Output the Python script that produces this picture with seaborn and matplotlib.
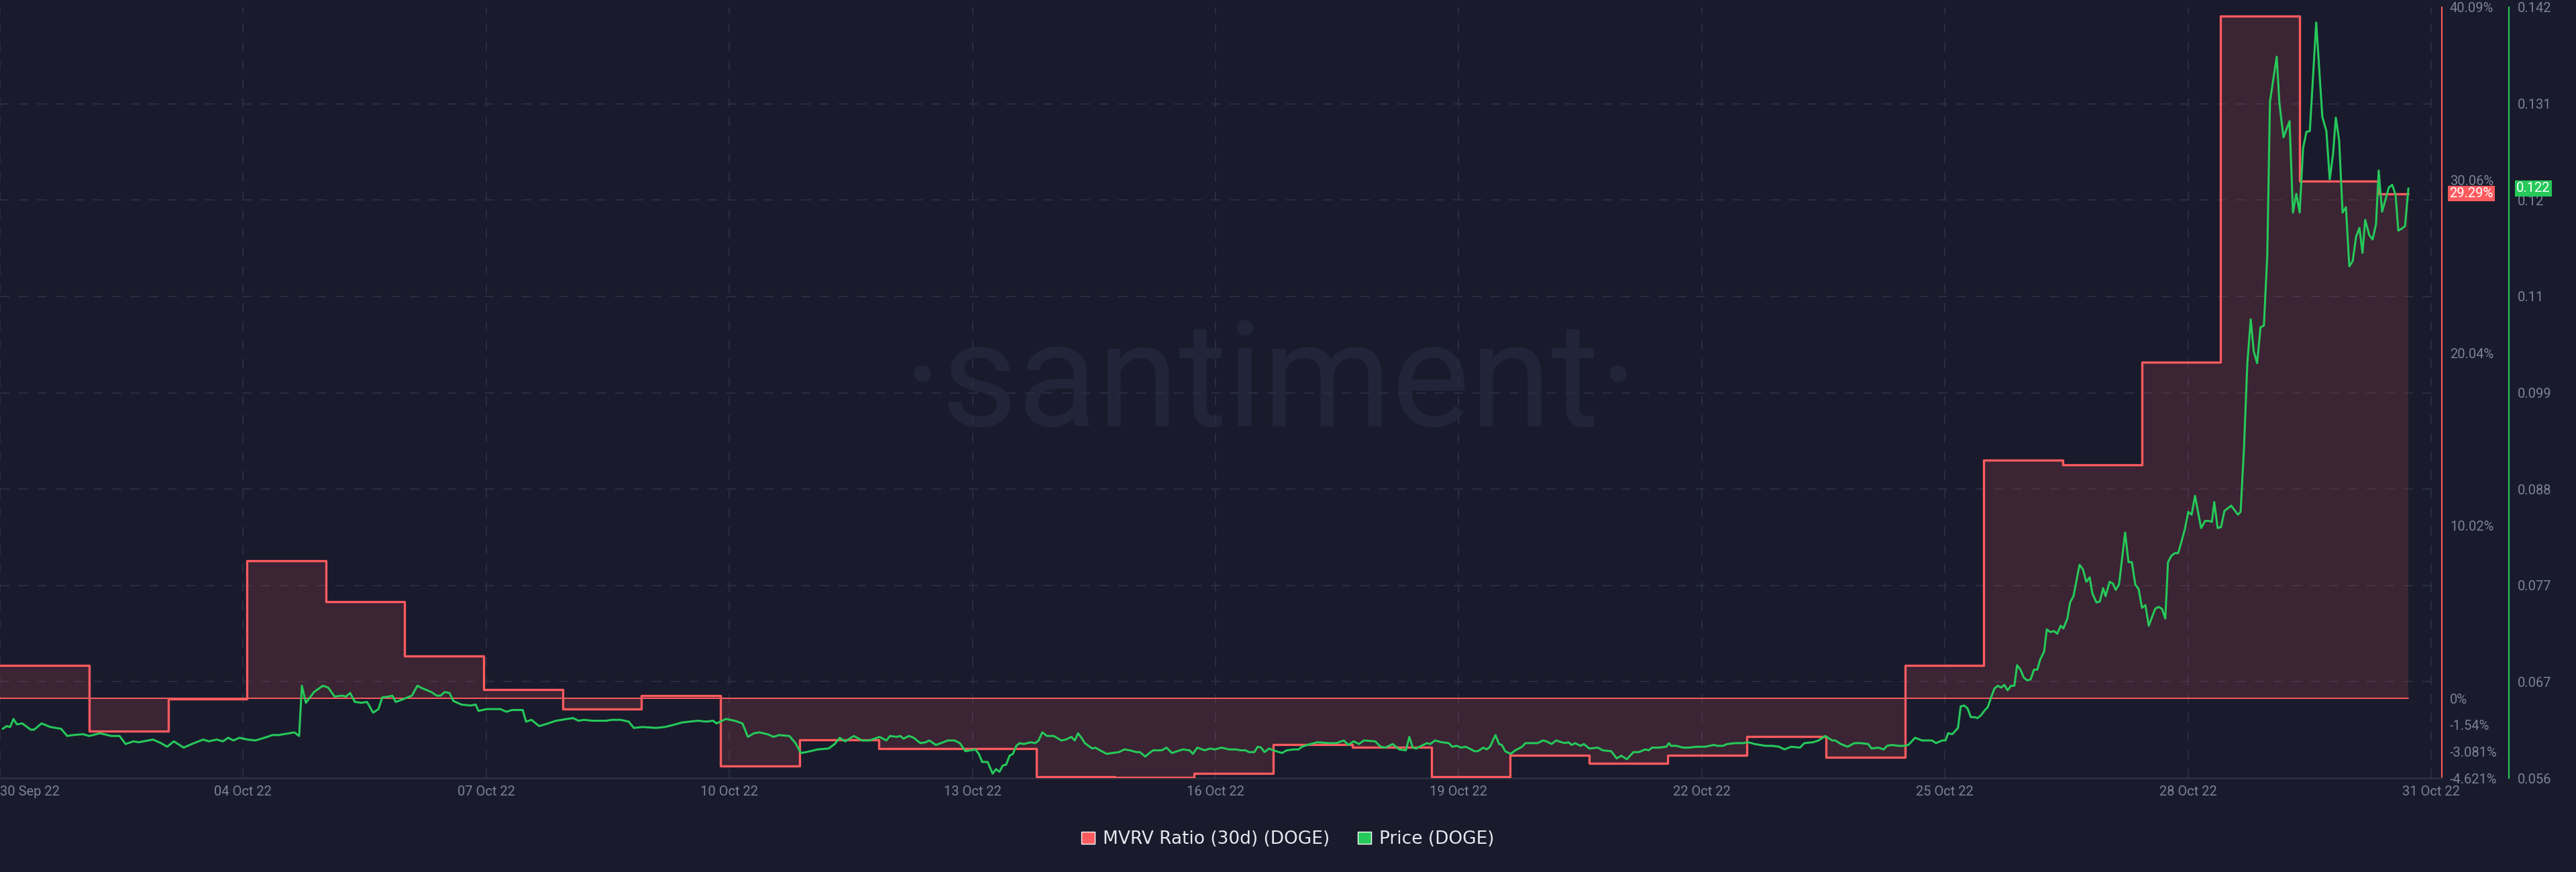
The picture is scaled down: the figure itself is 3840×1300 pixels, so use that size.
import pandas as pd
import numpy as np
import matplotlib.pyplot as plt
import matplotlib.font_manager as fm
from matplotlib import transforms
from matplotlib.patches import Patch
import seaborn as sns

# MVRV (30d) daily values in %, each one starts at the given hour after 01 Oct 2022 00:00
mvrv_hours = [0, 26.4, 49.8, 73.2, 96.6, 119.9, 143.3, 166.7, 190.0, 213.4,
              236.8, 260.2, 283.6, 307.0, 330.3, 353.7, 377.1, 400.5, 423.9, 447.3,
              470.6, 494.0, 517.4, 540.8, 564.2, 587.5, 610.9, 634.3, 657.7, 681.1,
              704.5]
mvrv_pct = [1.92, -1.91, -0.04, 7.97, 5.61, 2.47, 0.53, -0.62, 0.16, -3.93,
            -2.41, -2.90, -2.90, -4.55, -4.60, -4.34, -2.66, -2.83, -4.55, -3.29,
            -3.78, -3.31, -2.21, -3.40, 1.91, 13.83, 13.56, 19.50, 39.60, 30.00,
            29.29]
last_hour = 713.3

# DOGE price (hour after 01 Oct 2022 00:00, USD)
price_points = [
    (0.8, 0.0615), (2.0, 0.0618), (3.0, 0.0617), (4.0, 0.0626), (5.0, 0.0620), (6.6, 0.0621),
    (9.1, 0.0614), (10.1, 0.0614), (12.3, 0.0621), (14.9, 0.0617), (18.1, 0.0615), (19.9, 0.0607),
    (21.5, 0.0608), (24.6, 0.0609), (26.4, 0.0607), (29.6, 0.0610), (33.0, 0.0607), (35.4, 0.0607),
    (37.2, 0.0598), (39.5, 0.0601), (41.1, 0.0600), (45.3, 0.0603), (47.7, 0.0599), (49.5, 0.0595),
    (51.5, 0.0601), (54.4, 0.0594), (56.8, 0.0598), (60.2, 0.0603), (61.8, 0.0601), (64.2, 0.0603),
    (66.0, 0.0601), (67.6, 0.0605), (69.1, 0.0602), (70.9, 0.0605), (73.3, 0.0603), (75.7, 0.0602),
    (78.3, 0.0605), (80.7, 0.0608), (82.5, 0.0608), (85.6, 0.0610), (87.2, 0.0611), (88.6, 0.0607),
    (89.4, 0.0663), (90.6, 0.0644), (91.4, 0.0648), (93.0, 0.0656), (95.6, 0.0663), (97.2, 0.0661),
    (99.1, 0.0651), (101.3, 0.0652), (102.5, 0.0651), (103.7, 0.0655), (105.1, 0.0645), (107.1, 0.0644),
    (108.7, 0.0645), (110.5, 0.0633), (112.1, 0.0637), (113.2, 0.0650), (115.2, 0.0651), (116.2, 0.0652),
    (117.2, 0.0645), (119.4, 0.0648), (122.0, 0.0652), (123.6, 0.0663), (125.2, 0.0660), (127.8, 0.0656),
    (129.3, 0.0652), (130.5, 0.0652), (131.7, 0.0656), (133.1, 0.0655), (134.3, 0.0646), (136.7, 0.0642),
    (139.3, 0.0641), (140.9, 0.0642), (141.7, 0.0635), (144.2, 0.0637), (148.2, 0.0637), (150.0, 0.0634),
    (151.6, 0.0636), (154.8, 0.0636), (155.8, 0.0623), (157.4, 0.0625), (159.7, 0.0618), (162.3, 0.0621),
    (164.7, 0.0624), (168.1, 0.0626), (169.7, 0.0627), (171.3, 0.0624), (173.0, 0.0625), (175.4, 0.0624),
    (179.6, 0.0624), (181.2, 0.0625), (183.8, 0.0625), (186.2, 0.0623), (187.7, 0.0616), (190.3, 0.0617),
    (194.3, 0.0616), (196.9, 0.0617), (200.1, 0.0620), (201.9, 0.0622), (204.2, 0.0623), (206.8, 0.0624),
    (209.2, 0.0623), (211.2, 0.0624), (212.2, 0.0621), (215.0, 0.0626), (217.6, 0.0624), (219.9, 0.0621),
    (221.5, 0.0606), (223.3, 0.0610), (224.9, 0.0611), (227.3, 0.0609), (229.1, 0.0606), (230.7, 0.0608),
    (233.8, 0.0607), (235.6, 0.0599), (237.2, 0.0588), (238.8, 0.0589), (242.2, 0.0592), (245.4, 0.0593),
    (247.2, 0.0598), (248.7, 0.0605), (250.3, 0.0601), (252.9, 0.0607), (255.3, 0.0602),
    (257.5, 0.0602), (260.5, 0.0606), (262.5, 0.0602), (263.6, 0.0607), (265.6, 0.0606), (266.6, 0.0607),
    (267.6, 0.0604), (269.2, 0.0607), (270.6, 0.0605), (272.6, 0.0599), (274.2, 0.0600), (275.2, 0.0602),
    (277.2, 0.0597), (278.7, 0.0599), (280.7, 0.0602), (282.7, 0.0602), (284.3, 0.0599), (285.9, 0.0590),
    (288.9, 0.0592), (289.9, 0.0587), (290.9, 0.0578), (292.5, 0.0578), (294.0, 0.0565), (295.0, 0.0570),
    (296.0, 0.0567), (297.0, 0.0574), (298.0, 0.0575), (299.0, 0.0585), (300.0, 0.0587), (301.0, 0.0596),
    (302.0, 0.0599), (303.2, 0.0598), (305.2, 0.0600), (306.6, 0.0599), (307.6, 0.0602), (308.7, 0.0611),
    (310.1, 0.0607), (312.1, 0.0607), (314.3, 0.0602), (315.7, 0.0603), (317.3, 0.0606), (318.3, 0.0602),
    (319.3, 0.0610), (320.3, 0.0605), (321.3, 0.0599), (323.5, 0.0593), (324.4, 0.0594), (325.8, 0.0591),
    (327.8, 0.0587), (329.4, 0.0588), (331.4, 0.0589), (333.0, 0.0592), (334.6, 0.0591), (336.6, 0.0589),
    (337.6, 0.0589), (339.2, 0.0584), (340.1, 0.0587), (341.5, 0.0591), (344.1, 0.0591), (345.5, 0.0594),
    (347.1, 0.0588), (348.7, 0.0590), (350.3, 0.0592), (352.3, 0.0591), (353.3, 0.0587), (354.6, 0.0594),
    (356.8, 0.0591), (358.4, 0.0593), (359.8, 0.0592), (361.8, 0.0594), (364.0, 0.0592), (366.0, 0.0592),
    (367.4, 0.0591), (368.9, 0.0591), (369.9, 0.0589), (371.5, 0.0589), (372.5, 0.0595), (373.5, 0.0594),
    (374.5, 0.0589), (375.9, 0.0593), (377.1, 0.0591), (379.7, 0.0588), (381.1, 0.0591), (383.3, 0.0592),
    (384.6, 0.0592), (385.6, 0.0595), (387.2, 0.0597), (390.2, 0.0600), (393.4, 0.0599), (395.8, 0.0599),
    (398.0, 0.0602), (399.3, 0.0597), (400.9, 0.0601), (402.5, 0.0598), (403.9, 0.0602), (407.3, 0.0601),
    (408.9, 0.0595), (410.3, 0.0594), (412.5, 0.0598), (414.4, 0.0592), (416.4, 0.0591), (417.4, 0.0606),
    (418.4, 0.0594), (419.4, 0.0593), (421.0, 0.0596), (422.6, 0.0599), (423.6, 0.0598), (425.0, 0.0602),
    (427.0, 0.0600), (429.1, 0.0599), (430.1, 0.0595), (431.5, 0.0596), (432.7, 0.0594), (434.1, 0.0595),
    (435.7, 0.0592), (436.7, 0.0590), (437.7, 0.0590), (439.3, 0.0594), (440.3, 0.0592), (441.3, 0.0595),
    (442.9, 0.0608), (444.0, 0.0598), (444.8, 0.0597), (445.8, 0.0590), (447.4, 0.0587), (448.8, 0.0591),
    (450.8, 0.0595), (451.8, 0.0599), (454.0, 0.0599), (455.4, 0.0599), (457.0, 0.0602), (458.0, 0.0601),
    (459.5, 0.0598), (460.9, 0.0602), (462.5, 0.0600), (463.5, 0.0599), (464.5, 0.0600), (465.5, 0.0597),
    (466.5, 0.0599), (468.1, 0.0596), (469.1, 0.0598), (470.7, 0.0593), (473.3, 0.0594), (474.6, 0.0591),
    (477.2, 0.0590), (478.8, 0.0582), (480.2, 0.0585), (481.8, 0.0581), (483.8, 0.0589), (485.4, 0.0589),
    (487.3, 0.0592), (488.3, 0.0591), (489.3, 0.0594), (491.3, 0.0594), (493.5, 0.0595), (494.3, 0.0599),
    (494.9, 0.0596), (496.5, 0.0596), (498.5, 0.0594), (500.1, 0.0594), (502.6, 0.0595), (505.0, 0.0595),
    (507.6, 0.0597), (508.6, 0.0596), (510.2, 0.0596), (511.6, 0.0598), (513.8, 0.0599), (516.2, 0.0599),
    (517.7, 0.0600), (519.7, 0.0598), (522.9, 0.0596), (524.9, 0.0596), (526.9, 0.0595), (528.5, 0.0592),
    (530.5, 0.0595), (533.1, 0.0594), (534.4, 0.0599), (537.0, 0.0600), (538.6, 0.0602), (540.6, 0.0607),
    (542.6, 0.0602), (543.6, 0.0602), (545.2, 0.0598), (547.2, 0.0595), (549.2, 0.0599), (551.1, 0.0599),
    (553.3, 0.0598), (554.3, 0.0593), (556.3, 0.0594), (557.9, 0.0592), (558.9, 0.0596), (560.3, 0.0597),
    (562.3, 0.0596), (564.2, 0.0596), (565.2, 0.0597), (567.2, 0.0605), (569.2, 0.0602), (572.2, 0.0602),
    (573.4, 0.0599), (575.2, 0.0602), (576.2, 0.0602), (577.0, 0.0610), (578.2, 0.0609), (579.2, 0.0613),
    (579.9, 0.0616), (580.7, 0.0640), (581.7, 0.0641), (582.7, 0.0638), (583.7, 0.0628), (584.7, 0.0628),
    (585.7, 0.0627), (586.7, 0.0630), (587.9, 0.0636), (588.7, 0.0639), (589.7, 0.0650), (590.7, 0.0660),
    (591.7, 0.0663), (592.7, 0.0661), (593.6, 0.0664), (594.6, 0.0658), (595.6, 0.0663), (596.6, 0.0663),
    (597.4, 0.0686), (598.4, 0.0681), (599.4, 0.0672), (600.4, 0.0669), (601.4, 0.0670), (602.4, 0.0681),
    (603.4, 0.0681), (604.2, 0.0692), (605.4, 0.0701), (606.2, 0.0726), (607.2, 0.0723), (608.4, 0.0724),
    (609.3, 0.0721), (610.3, 0.0730), (611.1, 0.0727), (612.3, 0.0738), (613.1, 0.0756), (614.1, 0.0763),
    (615.9, 0.0798), (616.9, 0.0793), (617.9, 0.0779), (618.9, 0.0784), (619.7, 0.0766), (620.9, 0.0756),
    (621.9, 0.0757), (622.9, 0.0772), (623.6, 0.0763), (624.8, 0.0779), (625.8, 0.0777), (626.6, 0.0770),
    (627.6, 0.0776), (629.4, 0.0834), (630.4, 0.0801), (631.4, 0.0801), (632.4, 0.0776), (633.4, 0.0771),
    (634.4, 0.0750), (635.4, 0.0753), (636.4, 0.0730), (637.4, 0.0740), (638.3, 0.0749), (639.3, 0.0751),
    (640.3, 0.0749), (641.3, 0.0738), (642.1, 0.0801), (643.1, 0.0808), (644.1, 0.0811), (645.1, 0.0811),
    (646.1, 0.0824), (647.1, 0.0838), (648.1, 0.0857), (649.1, 0.0854), (650.1, 0.0875), (651.9, 0.0839),
    (653.1, 0.0847), (654.1, 0.0847), (655.1, 0.0846), (655.8, 0.0868), (656.8, 0.0839), (657.8, 0.0840),
    (658.8, 0.0858), (660.8, 0.0864), (662.8, 0.0854), (663.6, 0.0857), (664.6, 0.0928), (665.6, 0.1023),
    (666.6, 0.1072), (667.5, 0.1036), (668.5, 0.1023), (669.5, 0.1063), (670.5, 0.1065), (671.5, 0.1143),
    (672.3, 0.1315), (674.3, 0.1365), (675.1, 0.1313), (676.3, 0.1275), (678.1, 0.1293), (679.1, 0.1191),
    (680.1, 0.1212), (681.1, 0.1191), (682.1, 0.1263), (683.1, 0.1281), (684.1, 0.1282), (686.0, 0.1403),
    (687.8, 0.1298), (689.0, 0.1282), (690.0, 0.1228), (691.0, 0.1257), (691.8, 0.1297), (692.8, 0.1271),
    (693.8, 0.1191), (694.8, 0.1197), (695.8, 0.1131), (696.8, 0.1137), (697.8, 0.1164), (698.8, 0.1174),
    (699.7, 0.1146), (700.5, 0.1183), (701.7, 0.1166), (702.7, 0.1161), (703.7, 0.1178), (704.5, 0.1238),
    (705.5, 0.1192), (707.5, 0.1219), (708.5, 0.1222), (709.5, 0.1211), (710.3, 0.1171), (711.3, 0.1173),
    (712.3, 0.1176), (713.3, 0.1218),
]

date_labels = ['30 Sep 22', '04 Oct 22', '07 Oct 22', '10 Oct 22', '13 Oct 22', '16 Oct 22',
               '19 Oct 22', '22 Oct 22', '25 Oct 22', '28 Oct 22', '31 Oct 22']
pct_ticks = [40.09, 30.06, 20.04, 10.02, 0, -1.54, -3.081, -4.621]
pct_labels = ['40.09%', '30.06%', '20.04%', '10.02%', '0%', '-1.54%', '-3.081%', '-4.621%']
price_labels = ['0.056', '0.067', '0.077', '0.088', '0.099', '0.11', '0.12', '0.131', '0.142']

BG = '#191b2c'
RED = '#ff5b5f'
GREEN = '#26c95a'
GRID = '#2a2d40'
TICK = '#7b8298'
WM = '#22253a'

sns.set_theme(style='dark', rc={'axes.facecolor': BG, 'figure.facecolor': BG})
plt.rcParams['font.family'] = ['Roboto', 'DejaVu Sans']
plt.rcParams['lines.scale_dashes'] = False

start = pd.Timestamp('2022-10-01 00:00')
mvrv_t = start + pd.to_timedelta(mvrv_hours + [last_hour], unit='h')
mvrv_y = mvrv_pct + [mvrv_pct[-1]]
price_t = start + pd.to_timedelta([h for h, _ in price_points], unit='h')
price_usd = [p for _, p in price_points]

pct_lo, pct_hi = -4.621, 40.09
price_lo, price_hi = 0.056, 0.142
price_ticks = np.linspace(price_lo, price_hi, 9)

fig = plt.figure(figsize=(38.4, 13), dpi=100)
ax = fig.add_axes([0, 140 / 1300, 3640 / 3840, 1149 / 1300])
ax2 = ax.twinx()

# MVRV area + step line
ax.fill_between(mvrv_t, mvrv_y, 0, step='post', color=RED, alpha=0.15, lw=0, zorder=1)
ax.plot([mvrv_t[0], mvrv_t[-1]], [0, 0], color=RED, lw=1.4, zorder=2)
sns.lineplot(x=mvrv_t, y=mvrv_y, ax=ax, color=RED, lw=2.4, drawstyle='steps-post', zorder=3)

# price
sns.lineplot(x=price_t, y=price_usd, ax=ax2, color=GREEN, lw=2.2)

ax.set_xlim(start, start + pd.Timedelta(hours=723.2))
ax.set_ylim(pct_lo, pct_hi)
ax2.set_ylim(price_lo, price_hi)
for a in (ax, ax2):
    a.set_xlabel('')
    a.set_ylabel('')
    if a.get_legend():
        a.get_legend().remove()

tick_dates = [start] + list(pd.date_range('2022-10-04', periods=10, freq='3D'))
ax.set_xticks(tick_dates)
ax.set_xticklabels(date_labels)
ax.get_xticklabels()[0].set_ha('left')

ax.yaxis.tick_right()
ax.set_yticks(pct_ticks)
ax.set_yticklabels(pct_labels)
# horizontal grid follows the price ticks, drawn under the area
grid_pct = [pct_lo + (p - price_lo) / (price_hi - price_lo) * (pct_hi - pct_lo) for p in price_ticks]
ax.set_yticks(grid_pct, minor=True)
ax2.set_yticks(price_ticks)
ax2.set_yticklabels(price_labels)

ax.grid(axis='x', color=GRID, lw=1.5, ls=(0, (10, 10)))
ax.grid(axis='y', which='major', visible=False)
ax.grid(axis='y', which='minor', color=GRID, lw=1.5, ls=(0, (10, 10)))
ax2.grid(False)

ax.tick_params(axis='x', length=0, pad=8, labelsize=14.5, labelcolor=TICK)
ax.tick_params(axis='y', which='both', length=0, pad=8.6, labelsize=14.5, labelcolor=TICK,
               left=False, labelleft=False, right=True, labelright=True)
ax2.tick_params(axis='y', length=0, pad=9.4, labelsize=14.5, labelcolor=TICK)

for s in ('top', 'left'):
    ax.spines[s].set_visible(False)
ax.spines['bottom'].set_color('#2a2d3e')
ax.spines['bottom'].set_linewidth(2.2)
ax.spines['right'].set_color(RED)
ax.spines['right'].set_linewidth(1.5)
for s in ('top', 'left', 'bottom'):
    ax2.spines[s].set_visible(False)
ax2.spines['right'].set_color(GREEN)
ax2.spines['right'].set_linewidth(1.5)
ax2.spines['right'].set_position(('outward', 72))

# last value boxes
tr = transforms.blended_transform_factory(ax.transAxes, ax.transData)
ax.text(1.003, mvrv_pct[-1], f'{mvrv_pct[-1]:.2f}%', transform=tr, ha='left', va='center',
        fontsize=14.5, color='white', clip_on=False, zorder=10,
        bbox=dict(boxstyle='square,pad=0.12', fc=RED, ec='none'))
tr2 = transforms.blended_transform_factory(ax2.transAxes, ax2.transData)
ax2.text(1.0305, price_usd[-1], f'{price_usd[-1]:.3f}', transform=tr2, ha='left', va='center',
         fontsize=14.5, color='white', clip_on=False, zorder=10,
         bbox=dict(boxstyle='square,pad=0.12', fc=GREEN, ec='none'))

# watermark
avail = {f.name for f in fm.fontManager.ttflist}
if 'Liberation Sans Narrow' in avail:
    wm_font, wm_size = 'Liberation Sans Narrow', 184
else:
    wm_font, wm_size = 'Roboto', 158
ax.text(0.5203, 0.4569, '\u00b7santiment\u00b7', transform=ax.transAxes, ha='center',
        va='baseline', fontsize=wm_size, family=wm_font, color=WM, zorder=0.2)

handles = [Patch(facecolor=RED), Patch(facecolor=GREEN)]
fig.legend(handles, ['MVRV Ratio (30d) (DOGE)', 'Price (DOGE)'], loc='center',
           bbox_to_anchor=(0.5, 0.0377), ncol=2, frameon=False,
           prop={'family': 'DejaVu Sans', 'size': 19}, labelcolor='#e6e8ef',
           handlelength=0.75, handleheight=0.65, handletextpad=0.45, columnspacing=1.6)

fig.savefig('out.png', dpi=100, facecolor=BG)
